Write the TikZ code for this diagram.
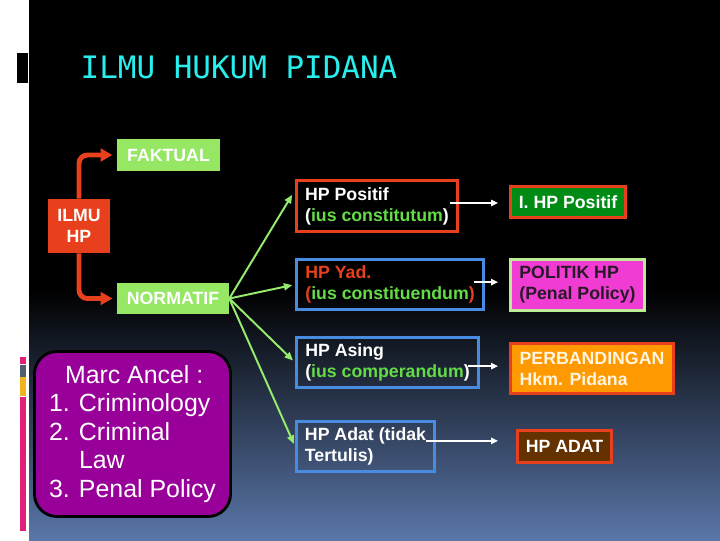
\documentclass[tikz,border=0pt]{standalone}
\usepackage{fontspec}
\setmainfont{Liberation Sans}
\newfontfamily\titlefont{DejaVu Sans Mono}
\usepackage{tikz}
\usetikzlibrary{positioning, arrows.meta}

\definecolor{titlecyan}{RGB}{40,238,238}
\definecolor{boxgreen}{RGB}{150,232,100}
\definecolor{hpred}{RGB}{232,64,28}
\definecolor{hpblue}{RGB}{72,140,225}
\definecolor{ancelpurple}{RGB}{153,0,153}
\definecolor{darkgreen}{RGB}{0,140,20}
\definecolor{politikpink}{RGB}{240,60,210}
\definecolor{palegreen}{RGB}{190,235,150}
\definecolor{perborange}{RGB}{255,153,0}
\definecolor{adatbrown}{RGB}{100,50,0}
\definecolor{txtgreen}{RGB}{100,220,70}
\definecolor{arrowgreen}{RGB}{150,235,110}
\definecolor{bgblue}{RGB}{90,118,168}
\definecolor{barpink}{RGB}{225,30,120}
\definecolor{bargrey}{RGB}{80,95,110}
\definecolor{baryellow}{RGB}{240,180,30}

\begin{document}
\begin{tikzpicture}[
  x=0.025cm, y=-0.025cm,
  fillbox/.style={rectangle, inner sep=3pt, align=left, text=white, font=\fontsize{12.6}{15}\selectfont\bfseries},
  hpbox/.style={rectangle, line width=2pt, inner xsep=3pt, align=left, text=white, font=\fontsize{12.6}{15}\selectfont\bfseries},
  redarrow/.style={-{Triangle[length=8.5pt, width=9pt]}, line width=3.5pt, hpred, rounded corners=6pt},
  greenarrow/.style={-{Triangle[length=6pt, width=5pt]}, line width=1.4pt, arrowgreen},
  whitearrow/.style={-{Triangle[length=5pt, width=4.5pt]}, line width=1.2pt, white}
]
\useasboundingbox (0, 0) rectangle (720, 540);

% ===== Background =====
\fill[white] (0, 0) rectangle (720, 540);
\fill[black] (29, 0) rectangle (720, 291);
\shade[top color=black, bottom color=bgblue] (29, 290) rectangle (720, 540);
\fill[black] (17, 53) rectangle (28, 83);
\fill[barpink] (20, 357) rectangle (26, 364);
\fill[bargrey] (20, 365) rectangle (26, 377);
\fill[baryellow] (20, 377) rectangle (26, 396);
\fill[barpink] (20, 397) rectangle (26, 531);

% Title
\node[text=titlecyan, font=\titlefont\fontsize{22}{26}\selectfont] at (239, 67) (title) {ILMU HUKUM PIDANA};

% ===== Left part: ILMU HP =====
\node[fillbox, fill=hpred, align=center, minimum width=1.55cm, minimum height=1.35cm] at (79, 226) (ilmu) {ILMU\\HP};
\node[fillbox, fill=boxgreen, minimum width=2.575cm, minimum height=0.8cm] at (168.5, 155) (faktual) {FAKTUAL};
\node[fillbox, fill=boxgreen, minimum width=2.8cm, minimum height=0.775cm] at (173, 298.5) (normatif) {NORMATIF};

\draw[redarrow, shorten >=3pt] (ilmu.north) |- (faktual.west);
\draw[redarrow, shorten >=3pt] (ilmu.south) |- (normatif.west);

% Marc Ancel box
\node[rectangle, rounded corners=16pt, draw=black, line width=2pt, fill=ancelpurple, text=white, align=left,
      minimum width=4.9cm, minimum height=4.125cm, font=\fontsize{17.7}{20.3}\selectfont] at (132.5, 434) (ancel)
  {\hspace*{0.4cm}Marc Ancel :\\1. Criminology\\2. Criminal\\\phantom{2. }Law\\3. Penal Policy};

% ===== Middle column: kinds of HP =====
\node[hpbox, draw=hpred, minimum width=4.025cm, minimum height=1.275cm] at (377, 206) (hpPos)
  {HP Positif\\(\textcolor{txtgreen}{ius constitutum})};
\node[hpbox, draw=hpblue, minimum width=4.675cm, minimum height=1.25cm] at (390, 284.5) (hpYad)
  {\textcolor{hpred}{HP Yad.}\\\textcolor{hpred}{(}\textcolor{txtgreen}{ius constituendum}\textcolor{hpred}{)}};
\node[hpbox, draw=hpblue, minimum width=4.55cm, minimum height=1.25cm] at (387.5, 362.5) (hpAsing)
  {HP Asing\\(\textcolor{txtgreen}{ius comperandum})};
\node[hpbox, draw=hpblue, minimum width=3.45cm, minimum height=1.25cm] at (365.5, 446.5) (hpAdat)
  {HP Adat (tidak\\Tertulis)};

\draw[greenarrow, shorten >=4pt] (normatif.east) -- ([yshift=0.4cm]hpPos.west);
\draw[greenarrow, shorten >=2pt] (normatif.east) -- (hpYad.west);
\draw[greenarrow, shorten >=2pt] (normatif.east) -- (hpAsing.west);
\draw[greenarrow, shorten >=2pt] (normatif.east) -- (hpAdat.west);

% ===== Right column =====
\node[hpbox, draw=hpred, fill=darkgreen, minimum width=2.875cm, minimum height=0.775cm] at (568, 202) (iPos)
  {I. HP Positif};
\node[hpbox, draw=palegreen, fill=politikpink, text={rgb,255:red,40;green,25;blue,40}, minimum width=3.35cm, minimum height=1.275cm] at (577.5, 285) (politik)
  {POLITIK HP\\(Penal Policy)};
\node[hpbox, draw=hpred, fill=perborange, text={rgb,255:red,255;green,245;blue,225}, minimum width=4.075cm, minimum height=1.25cm] at (592, 368.5) (perb)
  {PERBANDINGAN\\Hkm. Pidana};
\node[hpbox, draw=hpred, fill=adatbrown, minimum width=2.35cm, minimum height=0.8cm] at (564.5, 446.5) (adat)
  {HP ADAT};

\draw[whitearrow, shorten >=0.275cm] ([xshift=-0.225cm, yshift=0.075cm]hpPos.east) -- ([yshift=0.075cm]hpPos.east -| iPos.west);
\draw[whitearrow, shorten >=0.275cm] ([xshift=-0.275cm, yshift=0.06cm]hpYad.east) -- ([yshift=0.06cm]hpYad.east -| politik.west);
\draw[whitearrow, shorten >=0.275cm] ([xshift=-0.3cm, yshift=-0.09cm]hpAsing.east) -- ([yshift=-0.09cm]hpAsing.east -| perb.west);
\draw[whitearrow, shorten >=0.45cm] ([xshift=-0.25cm, yshift=0.14cm]hpAdat.east) -- ([yshift=0.14cm]hpAdat.east -| adat.west);

\end{tikzpicture}
\end{document}
